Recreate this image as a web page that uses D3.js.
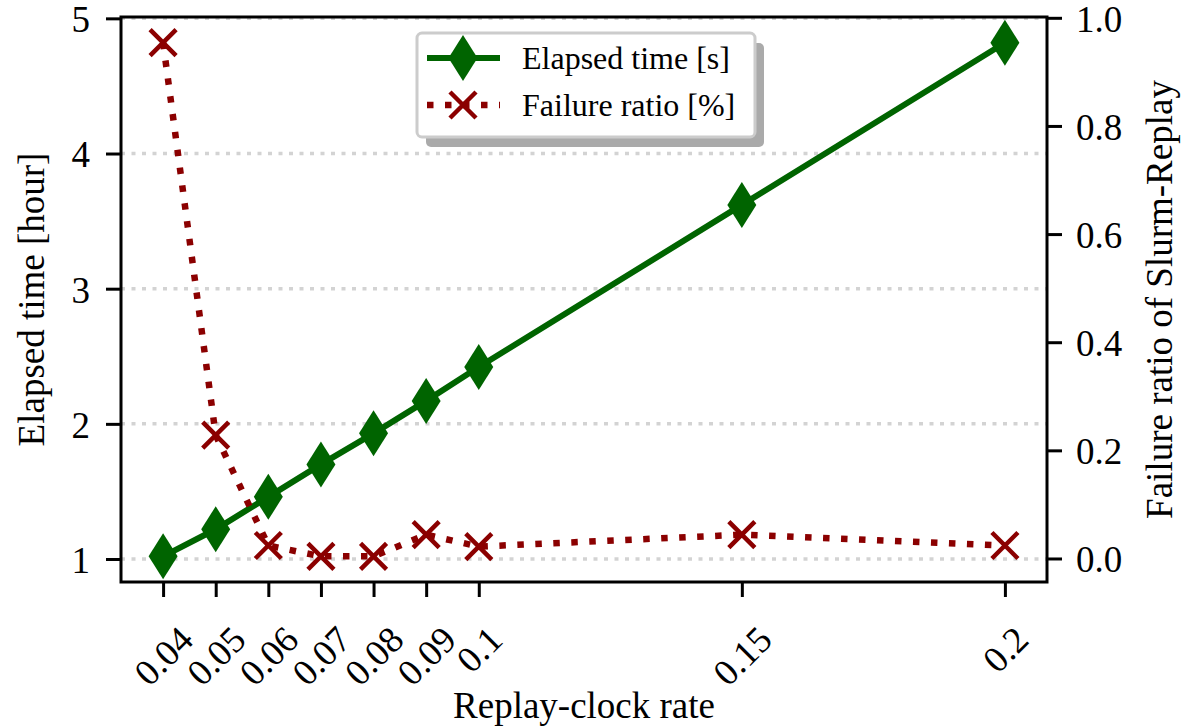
<!DOCTYPE html>
<html>
<head>
<meta charset="utf-8">
<script src="https://cdn.jsdelivr.net/npm/d3@7"></script>
<style>
  body { margin: 0; background: #fff; }
  svg text { font-family: "Liberation Serif", "DejaVu Serif", serif !important; fill: #000; }
</style>
</head>
<body>
<svg id="chart" width="1186" height="728"></svg>
<script>
// Data
const rates = [0.04, 0.05, 0.06, 0.07, 0.08, 0.09, 0.1, 0.15, 0.2];
const rateLabels = ["0.04", "0.05", "0.06", "0.07", "0.08", "0.09", "0.1", "0.15", "0.2"];
const elapsedHours = [1.02, 1.22, 1.46, 1.70, 1.93, 2.17, 2.42, 3.62, 4.82];
const failureRatio = [0.954, 0.228, 0.024, 0.004, 0.004, 0.044, 0.022, 0.044, 0.024];
const leftTicks = [1, 2, 3, 4, 5];
const rightTicks = [0, 0.2, 0.4, 0.6, 0.8, 1.0];
const legendLabels = ["Elapsed time [s]", "Failure ratio [%]"];

const green = "#006400";
const darkred = "#8b0000";
const serif = "'Liberation Serif', 'DejaVu Serif', serif";

const svg = d3.select("#chart");
const plot = { left: 121, right: 1047, top: 17, bottom: 582 };

// matplotlib style 5% margins
function padded(values) {
  const [lo, hi] = d3.extent(values);
  const m = (hi - lo) * 0.05;
  return [lo - m, hi + m];
}

const x = d3.scaleLinear().domain(padded(rates)).range([plot.left, plot.right]);
const yL = d3.scaleLinear().domain(padded(elapsedHours)).range([plot.bottom, plot.top]);
const yR = d3.scaleLinear().domain(padded(failureRatio)).range([plot.bottom, plot.top]);

// Grid (left axis only)
svg.append("g")
  .selectAll("line")
  .data(leftTicks)
  .enter()
  .append("line")
  .attr("x1", plot.left)
  .attr("x2", plot.right)
  .attr("y1", (d) => yL(d))
  .attr("y2", (d) => yL(d))
  .attr("stroke", "#d3d3d3")
  .attr("stroke-width", 3.5)
  .attr("stroke-dasharray", "4,6.5");

// Marker shapes
const diamondPath = "M0,-23L14.5,0L0,23L-14.5,0Z";
const crossPath = "M-13,-13L13,13M-13,13L13,-13";

const pts = rates.map((r, i) => ({ r, e: elapsedHours[i], f: failureRatio[i] }));

// Elapsed time series
svg.append("path")
  .datum(pts)
  .attr("fill", "none")
  .attr("stroke", green)
  .attr("stroke-width", 6)
  .attr("d", d3.line().x((d) => x(d.r)).y((d) => yL(d.e)));

svg.append("g")
  .selectAll("path")
  .data(pts)
  .enter()
  .append("path")
  .attr("d", diamondPath)
  .attr("fill", green)
  .attr("transform", (d) => `translate(${x(d.r)},${yL(d.e)})`);

// Failure ratio series
svg.append("path")
  .datum(pts)
  .attr("fill", "none")
  .attr("stroke", darkred)
  .attr("stroke-width", 6.5)
  .attr("stroke-dasharray", "6.5,11.5")
  .attr("d", d3.line().x((d) => x(d.r)).y((d) => yR(d.f)));

svg.append("g")
  .selectAll("path")
  .data(pts)
  .enter()
  .append("path")
  .attr("d", crossPath)
  .attr("fill", "none")
  .attr("stroke", darkred)
  .attr("stroke-width", 4.5)
  .attr("transform", (d) => `translate(${x(d.r)},${yR(d.f)})`);

// Frame
svg.append("rect")
  .attr("x", plot.left)
  .attr("y", plot.top)
  .attr("width", plot.right - plot.left)
  .attr("height", plot.bottom - plot.top)
  .attr("fill", "none")
  .attr("stroke", "#000")
  .attr("stroke-width", 3);

// Axes
function styleAxis(g) {
  g.attr("font-family", serif).attr("font-size", 37);
  g.select(".domain").remove();
  g.selectAll(".tick line").attr("stroke", "#000").attr("stroke-width", 3);
}

svg.append("g")
  .attr("transform", `translate(${plot.left},0)`)
  .call(d3.axisLeft(yL).tickValues(leftTicks).tickSize(15).tickPadding(16).tickFormat(d3.format("d")))
  .call(styleAxis)
  .selectAll(".tick text")
  .attr("dy", "0.36em");

svg.append("g")
  .attr("transform", `translate(${plot.right},0)`)
  .call(d3.axisRight(yR).tickValues(rightTicks).tickSize(15).tickPadding(14).tickFormat(d3.format(".1f")))
  .call(styleAxis)
  .selectAll(".tick text")
  .attr("dy", "0.36em");

const xAxis = svg.append("g")
  .attr("transform", `translate(0,${plot.bottom})`)
  .call(d3.axisBottom(x).tickValues(rates).tickSize(15).tickFormat((d, i) => rateLabels[i]))
  .call(styleAxis);

// Rotated x tick labels, bbox top aligned under the ticks
xAxis.selectAll(".tick text")
  .attr("text-anchor", "middle")
  .attr("dominant-baseline", "central")
  .attr("dy", null)
  .attr("y", null)
  .attr("transform", function () {
    const len = this.getComputedTextLength();
    const half = (len + 26) * Math.SQRT1_2 / 2;
    return `translate(0,${42 + half}) rotate(-45)`;
  });

// Axis labels
function axisLabel(transform, label) {
  svg.append("text")
    .attr("transform", transform)
    .attr("text-anchor", "middle")
    .attr("font-family", serif)
    .attr("font-size", 37)
    .text(label);
}
axisLabel(`translate(${(plot.left + plot.right) / 2},718)`, "Replay-clock rate");
axisLabel(`translate(44,${(plot.top + plot.bottom) / 2}) rotate(-90)`, "Elapsed time [hour]");
axisLabel(`translate(1172,${(plot.top + plot.bottom) / 2}) rotate(-90)`, "Failure ratio of Slurm-Replay");

// Legend
const legend = svg.append("g").attr("transform", "translate(417,33)");
legend.append("rect")
  .attr("x", 9).attr("y", 10)
  .attr("width", 338).attr("height", 104)
  .attr("rx", 5)
  .attr("fill", "#aaa");
legend.append("rect")
  .attr("width", 338).attr("height", 104)
  .attr("rx", 5)
  .attr("fill", "#fff")
  .attr("stroke", "#ccc")
  .attr("stroke-width", 3);

const rows = [
  { y: 25, color: green, dash: null, width: 6, marker: diamondPath, fill: green, stroke: "none" },
  { y: 72, color: darkred, dash: "6.5,11.5", width: 6.5, marker: crossPath, fill: "none", stroke: darkred }
];

rows.forEach((row, i) => {
  legend.append("line")
    .attr("x1", 10).attr("x2", 83)
    .attr("y1", row.y).attr("y2", row.y)
    .attr("stroke", row.color)
    .attr("stroke-width", row.width)
    .attr("stroke-dasharray", row.dash);
  legend.append("path")
    .attr("d", row.marker)
    .attr("fill", row.fill)
    .attr("stroke", row.stroke)
    .attr("stroke-width", 4.5)
    .attr("transform", `translate(46,${row.y})`);
  legend.append("text")
    .attr("x", 105)
    .attr("y", row.y)
    .attr("dy", "0.35em")
    .attr("font-family", serif)
    .attr("font-size", 32)
    .text(legendLabels[i]);
});
</script>
</body>
</html>
